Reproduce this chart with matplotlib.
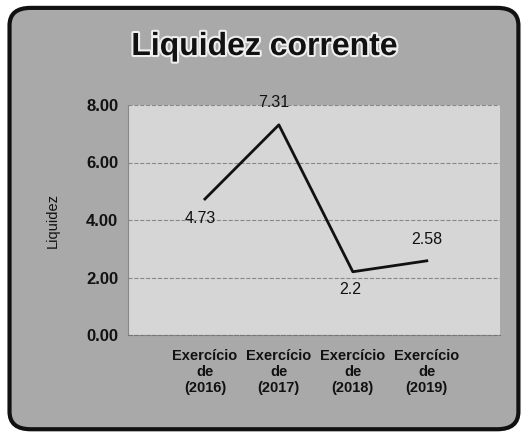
import matplotlib.pyplot as plt
import matplotlib.patheffects as pe
from matplotlib.patches import FancyBboxPatch

# dados
exercicios = ['Exercício\nde\n(2016)', 'Exercício\nde\n(2017)', 'Exercício\nde\n(2018)', 'Exercício\nde\n(2019)']
liquidez = [4.73, 7.31, 2.2, 2.58]
rotulos = ['4.73', '7.31', '2.2', '2.58']
y_ticks = [0, 2, 4, 6, 8]

plt.rcParams['font.family'] = ['Liberation Sans', 'DejaVu Sans']

fig = plt.figure(figsize=(5.29, 4.38), dpi=100)
fig.patch.set_facecolor('white')

# moldura arredondada
moldura = FancyBboxPatch((0.018, 0.02), 0.962, 0.962, boxstyle='round,pad=0,rounding_size=0.04',
                         transform=fig.transFigure, facecolor='#a9a9a9', edgecolor='#111111',
                         linewidth=3, zorder=-1)
fig.patches.append(moldura)

ax = fig.add_axes([128 / 529, 1 - 335 / 438, (500 - 128) / 529, (335 - 105) / 438])
ax.set_zorder(1)
ax.set_facecolor('#d6d6d6')

x = list(range(len(liquidez)))
ax.plot(x, liquidez, color='#111111', linewidth=2, zorder=3)

# rótulos dos pontos
offsets = [(-3.6, -13.7), (-3.6, 16), (-2, -13), (0, 15)]
for xi, yi, txt, (dx, dy) in zip(x, liquidez, rotulos, offsets):
    ax.annotate(txt, (xi, yi), xytext=(dx, dy), textcoords='offset points',
                ha='center', va='center', fontsize=11.5, color='#111111')

ax.set_xlim(-1.04, 3.99)
ax.set_ylim(0, 8)
ax.set_yticks(y_ticks)
ax.set_yticklabels([f'{v:.2f}' for v in y_ticks], fontsize=12, fontweight='bold')
ax.set_xticks(x)
ax.set_xticklabels(exercicios, fontsize=10.5, fontweight='bold', linespacing=1.2)
ax.tick_params(axis='y', length=0, pad=7, colors='#111111')
ax.tick_params(axis='x', length=0, pad=10, colors='#111111')

ax.grid(axis='y', color='#888888', linestyle='--', linewidth=0.8)
for s in ['top', 'right']:
    ax.spines[s].set_visible(False)
ax.spines['left'].set_color('#888888')
ax.spines['bottom'].set_color('#777777')
ax.spines['bottom'].set_linestyle('--')

ax.set_ylabel('Liquidez', fontsize=10.5, color='#111111', labelpad=19)

fig.text(0.5, 1 - 47 / 438, 'Liquidez corrente', ha='center', va='center', fontsize=23,
         fontweight='bold', color='#111111',
         path_effects=[pe.withStroke(linewidth=3, foreground='#eeeeee')])

fig.savefig('out.png', dpi=100)
